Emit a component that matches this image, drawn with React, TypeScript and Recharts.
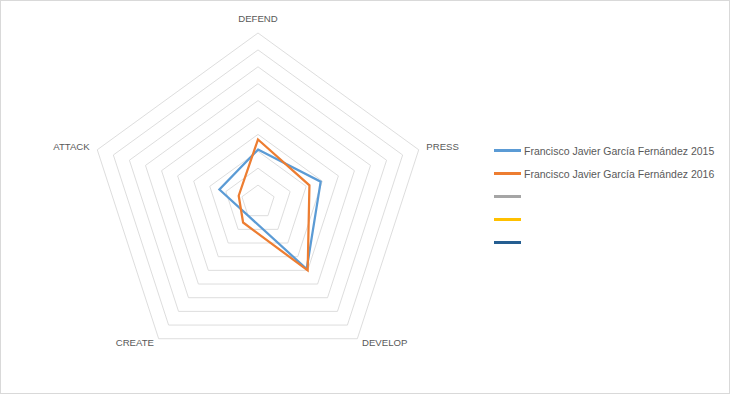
import React from 'react';
import { RadarChart, Radar, PolarGrid, PolarAngleAxis, PolarRadiusAxis, Legend } from 'recharts';

const categories = ['DEFEND', 'PRESS', 'DEVELOP', 'CREATE', 'ATTACK'];
const values2015 = [3.1, 3.9, 4.9, 1.0, 2.4];
const values2016 = [3.7, 3.2, 5.0, 1.5, 1.2];
const seriesNames = [
  'Francisco Javier García Fernández 2015',
  'Francisco Javier García Fernández 2016',
  '',
  '',
  '',
];
const seriesColors = ['#5b9bd5', '#ed7d31', '#a5a5a5', '#ffc000', '#255e91'];
const radiusDomain = [0, 10];
const radiusTickCount = 11;

const data = categories.map((c, i) => ({ category: c, s2015: values2015[i], s2016: values2016[i] }));

const CX = 258;
const CY = 202;
const FONT = '"Liberation Sans", Arial, sans-serif';

const AngleTick = (props: any) => {
  const { x, y, payload, textAnchor } = props;
  const rel = (y - CY);
  let shift = 0;
  if (rel < -120) shift = -7;
  else if (rel > 100) shift = -2.5;
  else shift = -0.5;
  return (
    <text
      x={x}
      y={y + shift}
      textAnchor={textAnchor}
      dominantBaseline="central"
      fontSize={9.6}
      fontFamily={FONT}
      fill="#595959"
    >
      {payload.value}
    </text>
  );
};

const LegendContent = () => (
  <div style={{ fontFamily: FONT, fontSize: 10.5, color: '#595959' }}>
    {seriesNames.map((n, i) => (
      <div key={i} style={{ height: 23, display: 'flex', alignItems: 'center' }}>
        <div style={{ width: 27, height: 2.5, background: seriesColors[i], marginRight: 3 }} />
        <span style={{ whiteSpace: 'nowrap' }}>{n}</span>
      </div>
    ))}
  </div>
);

export default function App() {
  return (
    <div style={{ position: 'fixed', left: 0, top: 0, width: 730, height: 394, background: '#fff' }}>
      <div
        style={{
          position: 'absolute',
          left: 0,
          top: 0,
          width: 730,
          height: 394,
          boxSizing: 'border-box',
          border: '1px solid #d9d9d9',
          pointerEvents: 'none',
        }}
      />
      <RadarChart width={730} height={394} data={data} cx={CX} cy={CY} outerRadius={169} margin={{ top: 0, right: 0, bottom: 0, left: 0 }}>
        <PolarGrid gridType="polygon" radialLines={false} stroke="#d9d9d9" strokeWidth={0.9} />
        <PolarAngleAxis dataKey="category" tick={<AngleTick />} tickLine={false} axisLine={false} />
        <PolarRadiusAxis domain={radiusDomain} tickCount={radiusTickCount} tick={false} axisLine={false} tickLine={false} />
        <Radar
          name={seriesNames[0]}
          dataKey="s2015"
          stroke={seriesColors[0]}
          strokeWidth={2.25}
          fill="none"
          fillOpacity={0}
          dot={false}
          isAnimationActive={false}
        />
        <Radar
          name={seriesNames[1]}
          dataKey="s2016"
          stroke={seriesColors[1]}
          strokeWidth={2.25}
          fill="none"
          fillOpacity={0}
          dot={false}
          isAnimationActive={false}
        />
        <Legend
          layout="vertical"
          align="left"
          verticalAlign="top"
          content={<LegendContent />}
          wrapperStyle={{ left: 494, top: 139, width: 230 }}
        />
      </RadarChart>
    </div>
  );
}
